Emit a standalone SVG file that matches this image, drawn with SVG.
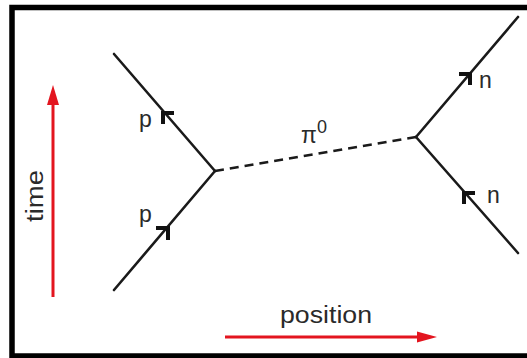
<svg xmlns="http://www.w3.org/2000/svg" width="527" height="358" viewBox="0 0 527 358">
<style>
.frame{fill:none;stroke:#000;stroke-width:5.5}
.fermion{stroke:#1a1a1a;stroke-width:2.6;fill:none;stroke-linecap:round}
.boson{stroke:#1a1a1a;stroke-width:2.6;fill:none;stroke-dasharray:9 6}
.chev{stroke:#111;stroke-width:4;fill:none;stroke-linecap:butt;stroke-linejoin:miter}
.lbl{font-family:"Liberation Sans",Arial,sans-serif;font-size:23px;fill:#2a2a2a}
.axis{stroke:#e3151f;stroke-width:3;fill:none}
.head{fill:#e3151f}
</style>
<rect x="0" y="0" width="527" height="358" fill="#fff"/>
<rect class="frame" x="12" y="7.5" width="540" height="348.5"/>
<g id="connectors">
  <line class="fermion" x1="114" y1="54" x2="215" y2="171"/>
  <line class="fermion" x1="114" y1="290" x2="215" y2="171"/>
  <line class="boson" x1="215" y1="171" x2="416" y2="137"/>
  <line class="fermion" x1="416" y1="137" x2="518" y2="17"/>
  <line class="fermion" x1="416" y1="137" x2="518" y2="253"/>
  <polyline class="chev" points="174,113 163,113 163,124"/>
  <polyline class="chev" points="156,228 168,228 168,240"/>
  <polyline class="chev" points="459,74 470,74 470,85"/>
  <polyline class="chev" points="475,193 464,193 464,204"/>
</g>
<g id="labels">
  <text class="lbl" x="139" y="127">p</text>
  <text class="lbl" x="139" y="222">p</text>
  <text class="lbl" x="479" y="88">n</text>
  <text class="lbl" x="487" y="203">n</text>
  <text class="lbl" x="301" y="143" font-size="25">π<tspan font-size="18" dy="-10">0</tspan></text>
</g>
<g id="time-axis">
  <line class="axis" x1="53" y1="297" x2="53" y2="100"/>
  <polygon class="head" points="53,85 47,105 59,105"/>
  <text class="lbl" x="43" y="222" transform="rotate(-90 43 222)" textLength="52" lengthAdjust="spacingAndGlyphs">time</text>
</g>
<g id="position-axis">
  <line class="axis" x1="225" y1="337" x2="422" y2="337"/>
  <polygon class="head" points="437,337 417,331.5 417,342.5"/>
  <text class="lbl" x="280" y="323" textLength="92" lengthAdjust="spacingAndGlyphs">position</text>
</g>
</svg>
